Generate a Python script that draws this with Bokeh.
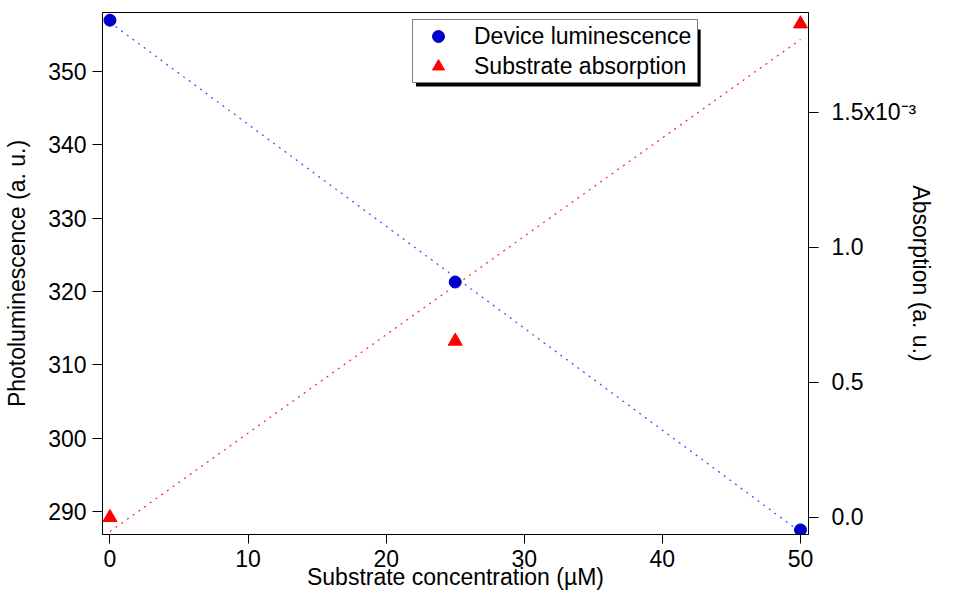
from bokeh.plotting import figure
from bokeh.models import (Range1d, LinearAxis, FixedTicker, CustomJSTickFormatter,
                          Legend, LegendItem, BoxAnnotation)
from bokeh.embed import file_html
from bokeh.resources import INLINE

# ---- data ----
conc = [0, 25, 50]                       # Substrate concentration (uM)
luminescence = [357.0, 321.3, 287.5]     # Photoluminescence (a. u.)
absorption = [0.0, 0.653, 1.828]         # Absorption (x 1e-3 a. u.)
fit_conc = [0, 50]
lum_fit = [356.7, 287.2]
abs_fit = [-0.052, 1.77]

x_ticks = [0, 10, 20, 30, 40, 50]
lum_ticks = [290, 300, 310, 320, 330, 340, 350]
abs_ticks = [0.0, 0.5, 1.0, 1.5]

FONT = "Liberation Sans"
FS = "23px"

p = figure(width=937, height=594, output_backend="svg", toolbar_location=None,
           x_range=Range1d(-0.54, 50.58), y_range=Range1d(286.87, 358.05),
           min_border_left=102, min_border_right=128, min_border_top=12, min_border_bottom=60)
p.extra_y_ranges = {"abs": Range1d(-0.063, 1.870)}
p.xgrid.visible = False
p.ygrid.visible = False
p.outline_line_color = "black"
p.outline_line_width = 1
p.background_fill_color = "white"
p.border_fill_color = "white"

# fit lines
p.line(fit_conc, lum_fit, line_color="#3048ff", line_width=1.2, line_dash="2 5")
p.line(fit_conc, abs_fit, line_color="#ff2020", line_width=1.2, line_dash="2 5", y_range_name="abs")

# markers
c = p.scatter(conc, luminescence, marker="circle", size=12, fill_color="#0000cc", line_color="#0000cc")
t = p.scatter(conc, absorption, marker="triangle", size=14, fill_color="#ff0000", line_color="#ff0000",
              y_range_name="abs")

# right axis
ax_r = LinearAxis(y_range_name="abs", ticker=FixedTicker(ticks=abs_ticks),
                  formatter=CustomJSTickFormatter(
                      code="return tick == 1.5 ? '1.5x10\u207b\u00b3' : tick.toFixed(1);"),
                  axis_label="Absorption (a. u.)")
p.add_layout(ax_r, "right")

p.xaxis.ticker = FixedTicker(ticks=x_ticks)
p.yaxis[0].ticker = FixedTicker(ticks=lum_ticks)
p.xaxis.axis_label = "Substrate concentration (\u00b5M)"
p.yaxis[0].axis_label = "Photoluminescence (a. u.)"

for ax in [p.xaxis[0], p.yaxis[0], ax_r]:
    ax.major_label_text_font = FONT
    ax.major_label_text_font_size = FS
    ax.major_label_text_color = "black"
    ax.axis_label_text_font = FONT
    ax.axis_label_text_font_size = FS
    ax.axis_label_text_font_style = "normal"
    ax.axis_label_text_color = "black"
    ax.axis_line_color = "black"
    ax.major_tick_line_color = "black"
    ax.major_tick_in = 0
    ax.minor_tick_line_color = None

p.yaxis[0].major_tick_out = 10
p.yaxis[0].major_label_standoff = 6
p.yaxis[0].axis_label_standoff = 15
p.xaxis[0].major_tick_out = 9
p.xaxis[0].major_label_standoff = 6
p.xaxis[0].axis_label_standoff = -6
ax_r.major_tick_out = 10
ax_r.major_label_standoff = 13
ax_r.axis_label_standoff = -11

# legend shadow
shadow = BoxAnnotation(left=22.16, right=42.77, top=355.73, bottom=347.96,
                       fill_color="black", fill_alpha=1.0, line_color=None)
p.add_layout(shadow)

legend = Legend(items=[LegendItem(label="Device luminescence", renderers=[c]),
                       LegendItem(label="Substrate absorption", renderers=[t])],
                location=(310, 451), margin=0, padding=1, spacing=0,
                glyph_width=48, glyph_height=30, label_height=28, label_width=222,
                label_standoff=12,
                label_text_font=FONT, label_text_font_size=FS, label_text_color="black",
                border_line_color="black", border_line_width=1,
                background_fill_color="white", background_fill_alpha=1.0)
p.add_layout(legend)

open("out.html", "w").write(file_html(p, INLINE))
